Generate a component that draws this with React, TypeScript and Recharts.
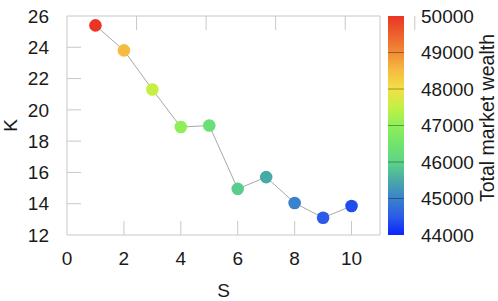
import { LineChart, Line, XAxis, YAxis, BarChart, Bar } from "recharts";

const sValues = [1, 2, 3, 4, 5, 6, 7, 8, 9, 10];
const kValues = [25.4, 23.8, 21.3, 18.9, 19.0, 14.95, 15.7, 14.05, 13.1, 13.85];
const wealth = [50000, 48500, 47500, 47000, 46300, 45900, 45500, 45000, 44500, 44350];

const xTicks = [0, 2, 4, 6, 8, 10];
const yTicks = [12, 14, 16, 18, 20, 22, 24, 26];
const cbTicks = [44000, 45000, 46000, 47000, 48000, 49000, 50000];

const data = sValues.map((s, i) => ({ s, k: kValues[i], w: wealth[i] }));
const cbData = [{ name: "w", range: [44000, 50000] }];

// colormap stops (value -> colour), shared by the bar and the dots
const STOPS: [number, string][] = [
  [44000, "#0a24ff"],
  [44500, "#2a5ce8"],
  [45000, "#3a82cc"],
  [45500, "#48aaa6"],
  [46000, "#5ed488"],
  [46500, "#72e46c"],
  [47000, "#8eef58"],
  [47500, "#c4f044"],
  [48000, "#f2e046"],
  [48500, "#f6bc42"],
  [49000, "#f08c36"],
  [49500, "#ec602e"],
  [50000, "#ea3424"],
];

const hex = (c: string) => [1, 3, 5].map((i) => parseInt(c.slice(i, i + 2), 16));
const colorOf = (v: number) => {
  for (let i = 1; i < STOPS.length; i++) {
    const [v0, c0] = STOPS[i - 1];
    const [v1, c1] = STOPS[i];
    if (v <= v1) {
      const t = Math.max(0, (v - v0) / (v1 - v0));
      const a = hex(c0), b = hex(c1);
      return `rgb(${a.map((x, j) => Math.round(x + (b[j] - x) * t)).join(",")})`;
    }
  }
  return STOPS[STOPS.length - 1][1];
};

const AXIS = "#c8c8c8";
const TXT = "#1a1a1a";
const FONT = "'Liberation Sans', Arial, sans-serif";

const LeftTick = ({ x, y, payload }: any) => (
  <g>
    {payload.value !== 12 && payload.value !== 26 && (
      <line x1={x} x2={x + 14} y1={y} y2={y} stroke={AXIS} />
    )}
    <text x={x - 18} y={y} dy="0.35em" textAnchor="end" fill={TXT} fontSize={19} fontFamily={FONT}>
      {payload.value}
    </text>
  </g>
);

const BottomTick = ({ x, y, payload }: any) => (
  <g>
    {payload.value !== 0 && <line x1={x} x2={x} y1={y} y2={y - 14} stroke={AXIS} />}
    <text x={x} y={y + 23} dy="0.35em" textAnchor="middle" fill={TXT} fontSize={19} fontFamily={FONT}>
      {payload.value}
    </text>
  </g>
);

const TopTick = ({ x, y }: any) => <line x1={x} x2={x} y1={y} y2={y + 14} stroke={AXIS} />;
const RightTick = ({ x, y }: any) => <line x1={x} x2={x - 14} y1={y} y2={y} stroke={AXIS} />;

const CbTick = ({ x, y, payload }: any) => (
  <g>
    {payload.value !== 44000 && payload.value !== 50000 && (
      <line x1={x - 16} x2={x} y1={y} y2={y} stroke="#000" strokeOpacity={0.35} />
    )}
    <text x={x + 17} y={y} dy="0.35em" textAnchor="start" fill={TXT} fontSize={19} fontFamily={FONT}>
      {payload.value}
    </text>
  </g>
);

const Dot = ({ cx, cy, payload }: any) => (
  <circle cx={cx} cy={cy} r={6.3} fill={colorOf(payload.w)} stroke="none" />
);

export default function App() {
  return (
    <div style={{ position: "absolute", left: 0, top: 0, width: 498, height: 301, background: "#fff" }}>
      <div style={{ position: "absolute", left: 0, top: 0 }}>
        <LineChart width={498} height={301} data={data} margin={{ top: 15, right: 117, left: 66, bottom: 65 }}>
          <XAxis
            dataKey="s"
            type="number"
            domain={[0, 11]}
            ticks={xTicks}
            height={1}
            tickSize={0}
            tickMargin={0}
            tickLine={false}
            axisLine={{ stroke: AXIS }}
            tick={<BottomTick />}
            label={{
              content: ({ viewBox }: any) => (
                <text x={viewBox.x + viewBox.width / 2} y={290} dy="0.35em" textAnchor="middle" fill={TXT} fontSize={19} fontFamily={FONT}>
                  S
                </text>
              ),
            }}
          />
          <XAxis
            xAxisId="top"
            orientation="top"
            type="number"
            domain={[0, 11]}
            ticks={[2, 4, 6, 8, 10]}
            height={1}
            tickSize={0}
            tickMargin={0}
            tickLine={false}
            axisLine={{ stroke: AXIS }}
            tick={<TopTick />}
          />
          <YAxis
            type="number"
            domain={[12, 26]}
            ticks={yTicks}
            width={1}
            tickSize={0}
            tickMargin={0}
            tickLine={false}
            axisLine={{ stroke: AXIS }}
            tick={<LeftTick />}
            label={{
              content: ({ viewBox }: any) => (
                <text
                  x={10}
                  y={viewBox.y + viewBox.height / 2}
                  dy="0.35em"
                  textAnchor="middle"
                  fill={TXT}
                  fontSize={19}
                  fontFamily={FONT}
                  transform={`rotate(-90 10 ${viewBox.y + viewBox.height / 2})`}
                >
                  K
                </text>
              ),
            }}
          />
          <YAxis
            yAxisId="right"
            orientation="right"
            type="number"
            domain={[12, 26]}
            ticks={[14, 16, 18, 20, 22, 24]}
            width={1}
            tickSize={0}
            tickMargin={0}
            tickLine={false}
            axisLine={{ stroke: AXIS }}
            tick={<RightTick />}
          />
          <Line
            dataKey="k"
            stroke="#a8a8a8"
            strokeWidth={1}
            dot={<Dot />}
            activeDot={false}
            isAnimationActive={false}
          />
        </LineChart>
      </div>
      <div style={{ position: "absolute", left: 0, top: 0 }}>
        <BarChart width={498} height={301} data={cbData} margin={{ top: 16, right: 93, left: 388, bottom: 66 }} barCategoryGap={0}>
          <defs>
            <linearGradient id="cbar" x1="0" y1="1" x2="0" y2="0">
              {STOPS.map(([v, c]) => (
                <stop key={v} offset={`${((v - 44000) / 6000) * 100}%`} stopColor={c} />
              ))}
            </linearGradient>
          </defs>
          <XAxis dataKey="name" hide />
          <YAxis
            orientation="right"
            type="number"
            domain={[44000, 50000]}
            ticks={cbTicks}
            width={1}
            tickSize={0}
            tickMargin={0}
            tickLine={false}
            axisLine={false}
            tick={<CbTick />}
            label={{
              content: () => (
                <text
                  x={487}
                  y={118}
                  dy="0.35em"
                  textAnchor="middle"
                  fill={TXT}
                  fontSize={19.5}
                  fontFamily={FONT}
                  transform="rotate(-90 487 118)"
                >
                  Total market wealth
                </text>
              ),
            }}
          />
          <Bar dataKey="range" fill="url(#cbar)" isAnimationActive={false} />
        </BarChart>
      </div>
    </div>
  );
}
